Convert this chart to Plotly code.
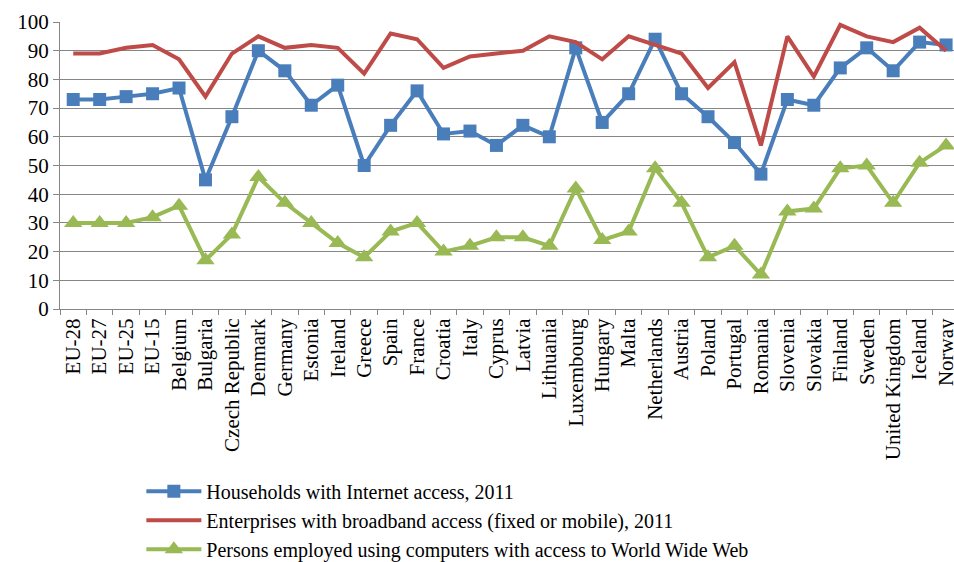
import plotly.graph_objects as go

categories = ["EU-28", "EU-27", "EU-25", "EU-15", "Belgium", "Bulgaria", "Czech Republic",
              "Denmark", "Germany", "Estonia", "Ireland", "Greece", "Spain", "France",
              "Croatia", "Italy", "Cyprus", "Latvia", "Lithuania", "Luxembourg", "Hungary",
              "Malta", "Netherlands", "Austria", "Poland", "Portugal", "Romania", "Slovenia",
              "Slovakia", "Finland", "Sweden", "United Kingdom", "Iceland", "Norway"]

households = [73, 73, 74, 75, 77, 45, 67, 90, 83, 71, 78, 50, 64, 76, 61, 62, 57, 64, 60,
              91, 65, 75, 94, 75, 67, 58, 47, 73, 71, 84, 91, 83, 93, 92]
enterprises = [89, 89, 91, 92, 87, 74, 89, 95, 91, 92, 91, 82, 96, 94, 84, 88, 89, 90, 95,
               93, 87, 95, 92, 89, 77, 86, 57, 95, 81, 99, 95, 93, 98, 90]
persons = [30, 30, 30, 32, 36, 17, 26, 46, 37, 30, 23, 18, 27, 30, 20, 22, 25, 25, 22,
           42, 24, 27, 49, 37, 18, 22, 12, 34, 35, 49, 50, 37, 51, 57]

names = ["Households with Internet access, 2011",
         "Enterprises with broadband access (fixed or mobile), 2011",
         "Persons employed using computers with access to World Wide Web"]

FONT = "Liberation Serif, serif"
BLUE = "#4A7EBB"
RED = "#BE4B48"
GREEN = "#98B954"

fig = go.Figure()
fig.add_trace(go.Scatter(x=categories, y=households, name=names[0], mode="lines+markers",
                         line=dict(color=BLUE, width=4),
                         marker=dict(symbol="square", size=13, color=BLUE),
                         cliponaxis=False))
fig.add_trace(go.Scatter(x=categories, y=enterprises, name=names[1], mode="lines",
                         line=dict(color=RED, width=4), cliponaxis=False))
fig.add_trace(go.Scatter(x=categories, y=persons, name=names[2], mode="lines+markers",
                         line=dict(color=GREEN, width=4),
                         marker=dict(symbol="triangle-up", size=16, color=GREEN),
                         cliponaxis=False))

fig.update_layout(
    width=954, height=562,
    margin=dict(l=60, r=0, t=22, b=253, autoexpand=False),
    paper_bgcolor="white", plot_bgcolor="white",
    font=dict(family=FONT, size=21, color="black"),
    showlegend=True,
    legend=dict(x=0.091, y=-0.567, xanchor="left", yanchor="top",
                font=dict(family=FONT, size=20, color="black"),
                tracegroupgap=0, itemwidth=55, bgcolor="rgba(0,0,0,0)"),
    xaxis=dict(type="category", range=[-0.5, 33.3], tickson="boundaries",
               ticks="outside", ticklen=5, tickcolor="#868686", automargin=False,
               showline=True, linecolor="#868686", linewidth=1,
               showgrid=False, tickangle=-90, tickfont=dict(family=FONT, size=21)),
    yaxis=dict(range=[0, 100], dtick=10, ticks="outside", ticklen=6, automargin=False,
               tickcolor="#868686", showline=True, linecolor="#868686",
               linewidth=1, showgrid=True, gridcolor="#868686", gridwidth=1,
               zeroline=False, tickfont=dict(family=FONT, size=21)),
)

fig.write_html("out.html")
